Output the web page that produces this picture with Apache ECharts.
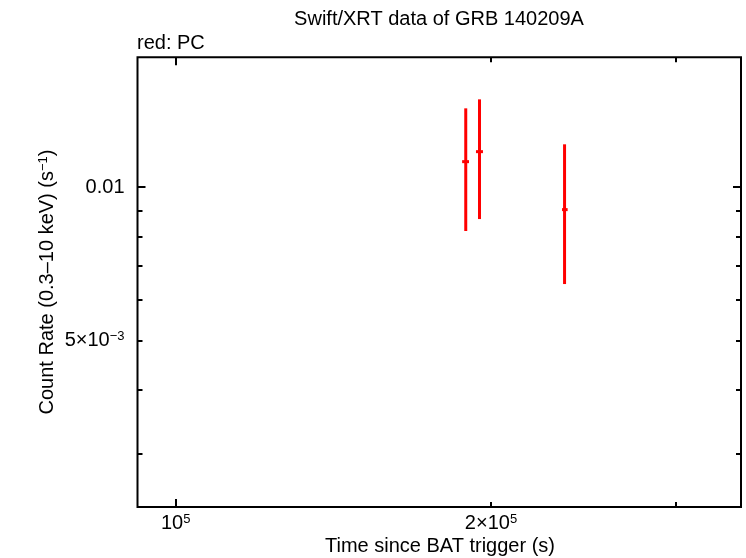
<!DOCTYPE html>
<html><head><meta charset="utf-8">
<script src="https://cdn.jsdelivr.net/npm/echarts@6/dist/echarts.min.js"></script>
<style>html,body{margin:0;padding:0;background:#fff}#c{width:746px;height:558px}</style>
</head><body><div id="c"></div>
<script>
// Data (PC mode, red)
const times   = [189200, 195000, 235100];
const timeLo  = [187700, 193500, 233800];
const timeHi  = [190560, 196500, 236700];
const rates   = [0.011216, 0.011735, 0.009029];
const rateLo  = [0.008196, 0.008652, 0.006449];
const rateHi  = [0.014274, 0.014866, 0.012131];

// Axis ranges and ticks
const xRange = [91950, 346500];
const yRange = [0.002353, 0.01798];
const xMajorTicks = [1e5];
const xMinorTicks = [2e5, 3e5];
const xLabelTicks = [1e5, 2e5];
const xLabelTexts = ['10{sup|5}', '2×10{sup|5}'];
const yMajorTicks = [0.01];
const yMinorTicks = [0.003, 0.004, 0.005, 0.006, 0.007, 0.008, 0.009];
const yLabelTicks = [0.005, 0.01];
const yLabelTexts = ['5×10{sup|−3}', '0.01'];

const FONT = 'Liberation Sans, Arial, Helvetica, sans-serif';
const FS = 20;
const L = Math.log10;
const rich = { sup: { fontSize: 13, verticalAlign: 'top', fontFamily: FONT, color: '#000' } };

function labelFmt(ticks, texts) {
  return function (v) {
    for (let i = 0; i < ticks.length; i++) if (Math.abs(L(ticks[i]) - v) < 1e-6) return texts[i];
    return '';
  };
}
function tickAxis(isX, pos, ticks, len, labels) {
  const r = isX ? xRange : yRange;
  const ax = {
    type: 'value', position: pos, min: L(r[0]), max: L(r[1]), gridIndex: 0,
    axisLine: { show: false }, splitLine: { show: false },
    axisTick: { show: true, inside: true, length: len, customValues: ticks.map(L),
                lineStyle: { color: '#000', width: 2 } },
    axisLabel: { show: false }
  };
  if (labels) {
    ax.axisLabel = {
      show: true, customValues: labels.ticks.map(L), formatter: labelFmt(labels.ticks, labels.texts),
      color: '#000', fontSize: FS, fontFamily: FONT, margin: labels.margin, rich: rich
    };
  }
  return ax;
}

const chart = echarts.init(document.getElementById('c'), null, { renderer: 'canvas' });
chart.setOption({
  animation: false,
  backgroundColor: '#fff',
  grid: { left: 137.5, right: 5, top: 57.3, bottom: 51, show: true, borderColor: '#000', borderWidth: 2, backgroundColor: 'transparent' },
  xAxis: [
    { type: 'log', logBase: 10, min: xRange[0], max: xRange[1], show: false },
    tickAxis(true, 'bottom', xMajorTicks, 8, { ticks: xLabelTicks, texts: xLabelTexts, margin: 6 }),
    tickAxis(true, 'bottom', xMinorTicks, 5),
    tickAxis(true, 'top', xMajorTicks, 8),
    tickAxis(true, 'top', xMinorTicks, 5)
  ],
  yAxis: [
    { type: 'log', logBase: 10, min: yRange[0], max: yRange[1], show: false },
    tickAxis(false, 'left', yMajorTicks, 8, { ticks: yLabelTicks, texts: yLabelTexts, margin: 13 }),
    tickAxis(false, 'left', yMinorTicks, 5),
    tickAxis(false, 'right', yMajorTicks, 8),
    tickAxis(false, 'right', yMinorTicks, 5)
  ],
  graphic: [
    { type: 'text', x: 439, y: 19, style: { text: 'Swift/XRT data of GRB 140209A', font: FS + 'px ' + FONT, fill: '#000', textAlign: 'center', textVerticalAlign: 'middle' } },
    { type: 'text', x: 137, y: 43, style: { text: 'red: PC', font: FS + 'px ' + FONT, fill: '#000', textAlign: 'left', textVerticalAlign: 'middle' } },
    { type: 'text', x: 440, y: 546, style: { text: 'Time since BAT trigger (s)', font: FS + 'px ' + FONT, fill: '#000', textAlign: 'center', textVerticalAlign: 'middle' } },
    { type: 'text', x: 47, y: 282, rotation: Math.PI / 2,
      style: { text: 'Count Rate (0.3–10 keV) (s{sup|−1})', font: FS + 'px ' + FONT, fill: '#000', textAlign: 'center', textVerticalAlign: 'middle', rich: rich } }
  ],
  series: [{
    type: 'custom', xAxisIndex: 0, yAxisIndex: 0,
    data: times.map((t, i) => [t, rates[i], timeLo[i], timeHi[i], rateLo[i], rateHi[i]]),
    encode: { x: 0, y: 1 },
    renderItem: function (params, api) {
      const x = api.value(0), y = api.value(1);
      const top = api.coord([x, api.value(5)]), bot = api.coord([x, api.value(4)]);
      const lf = api.coord([api.value(2), y]), rt = api.coord([api.value(3), y]);
      const style = { stroke: '#ff0000', lineWidth: 3 };
      return { type: 'group', children: [
        { type: 'line', shape: { x1: top[0], y1: top[1], x2: bot[0], y2: bot[1] }, style: style },
        { type: 'line', shape: { x1: lf[0], y1: lf[1], x2: rt[0], y2: rt[1] }, style: style }
      ] };
    }
  }]
});
</script>
</body></html>
